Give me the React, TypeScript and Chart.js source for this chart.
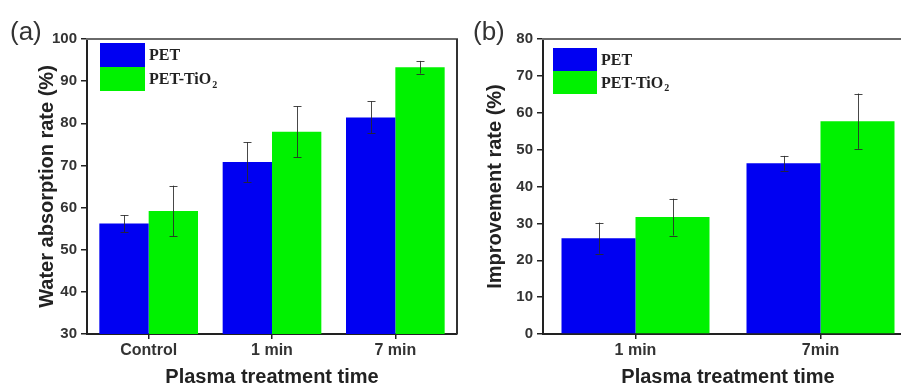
import React, { useEffect, useRef } from 'react';
import { Chart, registerables } from 'chart.js';

Chart.register(...registerables);

// ---------- data ----------
const categoriesA = ['Control', '1 min', '7 min'];
const petA = [56.2, 70.8, 81.4];
const petAErr = [2.0, 4.7, 3.8];
const tioA = [59.2, 78.0, 93.3];
const tioAErr = [6.0, 6.0, 1.5];
const yRangeA = [30, 100];

const categoriesB = ['1 min', '7min'];
const petB = [26.0, 46.3];
const petBErr = [4.2, 2.0];
const tioB = [31.7, 57.7];
const tioBErr = [5.0, 7.5];
const yRangeB = [0, 80];

const seriesNames = ['PET', 'PET-TiO'];
const BLUE = '#0000f2';
const GREEN = '#00f200';
const SANS = '"Liberation Sans", Arial, sans-serif';
const SERIF = '"Liberation Serif", "Times New Roman", serif';

type Deco = {
  panel: string;
  panelX: number;
  legendDx: number;
  legendDy: number;
  boxW: number;
  boxH: number;
  drawRight: boolean;
};

function makeDecoPlugin(deco: Deco, errs: number[][]) {
  return {
    id: 'deco',
    afterDatasetsDraw(chart: any) {
      const ctx = chart.ctx;
      const yScale = chart.scales.y;
      ctx.save();
      ctx.strokeStyle = 'rgba(40,40,40,0.85)';
      ctx.lineWidth = 1;
      chart.data.datasets.forEach((ds: any, di: number) => {
        const meta = chart.getDatasetMeta(di);
        meta.data.forEach((bar: any, j: number) => {
          const v = ds.data[j];
          const e = errs[di][j];
          const x = Math.round(bar.x) + 0.5;
          const yt = yScale.getPixelForValue(v + e);
          const yb = yScale.getPixelForValue(v - e);
          ctx.beginPath();
          ctx.moveTo(x, yt);
          ctx.lineTo(x, yb);
          ctx.moveTo(x - 4, Math.round(yt) + 0.5);
          ctx.lineTo(x + 4, Math.round(yt) + 0.5);
          ctx.moveTo(x - 4, Math.round(yb) + 0.5);
          ctx.lineTo(x + 4, Math.round(yb) + 0.5);
          ctx.stroke();
        });
      });
      ctx.restore();
    },
    afterDraw(chart: any) {
      const ctx = chart.ctx;
      const a = chart.chartArea;
      ctx.save();
      // frame
      ctx.lineWidth = 2;
      ctx.strokeStyle = '#6a6a6a';
      ctx.beginPath();
      ctx.moveTo(a.left - 1, a.top);
      ctx.lineTo(a.right + 1, a.top);
      ctx.stroke();
      if (deco.drawRight) {
        ctx.strokeStyle = '#333';
        ctx.beginPath();
        ctx.moveTo(a.right, a.top);
        ctx.lineTo(a.right, a.bottom);
        ctx.stroke();
      }
      // legend
      const lx = a.left + deco.legendDx;
      const ly = a.top + deco.legendDy;
      ctx.fillStyle = BLUE;
      ctx.fillRect(lx, ly, deco.boxW, deco.boxH);
      ctx.fillStyle = GREEN;
      ctx.fillRect(lx, ly + deco.boxH, deco.boxW, deco.boxH);
      ctx.fillStyle = '#222';
      ctx.font = `bold 16px ${SERIF}`;
      ctx.textBaseline = 'middle';
      ctx.textAlign = 'left';
      const tx = lx + deco.boxW + 4;
      ctx.fillText(seriesNames[0], tx, ly + deco.boxH / 2 + 1);
      const y2 = ly + deco.boxH * 1.5 + 1;
      ctx.fillText(seriesNames[1], tx, y2);
      const w = ctx.measureText(seriesNames[1]).width;
      ctx.font = `bold 10px ${SERIF}`;
      ctx.fillText('2', tx + w + 1, y2 + 5);
      // panel label
      ctx.font = `26px ${SANS}`;
      ctx.fillStyle = '#333';
      ctx.textBaseline = 'alphabetic';
      ctx.fillText(deco.panel, deco.panelX, 40);
      ctx.restore();
    },
  };
}

function buildConfig(
  cats: string[],
  pet: number[],
  tio: number[],
  range: number[],
  yTitle: string,
  yAxisWidth: number,
  yTitlePad: number,
  padRight: number
) {
  return {
    type: 'bar',
    data: {
      labels: cats,
      datasets: [
        { label: 'PET', data: pet, backgroundColor: BLUE, categoryPercentage: 0.8, barPercentage: 1.0 },
        { label: 'PET-TiO2', data: tio, backgroundColor: GREEN, categoryPercentage: 0.8, barPercentage: 1.0 },
      ],
    },
    options: {
      responsive: false,
      animation: false,
      layout: { padding: { left: 0, right: padRight, top: 39, bottom: 0 } },
      plugins: { legend: { display: false }, tooltip: { enabled: false } },
      scales: {
        x: {
          afterFit: (s: any) => {
            s.height = 66;
          },
          grid: { display: true, drawOnChartArea: false, offset: false, tickLength: 5, color: '#222', lineWidth: 1.5 },
          border: { display: true, color: '#222', width: 2 },
          ticks: { color: '#333', padding: 2, font: { family: SANS, size: 16, weight: 'bold' } },
          title: {
            display: true,
            text: 'Plasma treatment time',
            color: '#222',
            padding: { top: 0, bottom: 11 },
            font: { family: SANS, size: 20, weight: 'bold' },
          },
        },
        y: {
          min: range[0],
          max: range[1],
          afterFit: (s: any) => {
            s.width = yAxisWidth;
          },
          grid: { display: true, drawOnChartArea: false, tickLength: 6, color: '#222', lineWidth: 1.5 },
          border: { display: true, color: '#222', width: 2 },
          ticks: { stepSize: 10, color: '#333', padding: 4, font: { family: SANS, size: 15, weight: 'bold' } },
          title: {
            display: true,
            text: yTitle,
            color: '#222',
            padding: { top: yTitlePad, bottom: 0 },
            font: { family: SANS, size: 20, weight: 'bold' },
          },
        },
      },
    },
  };
}

export default function App() {
  const refA = useRef<HTMLCanvasElement>(null);
  const refB = useRef<HTMLCanvasElement>(null);

  useEffect(() => {
    const cfgA: any = buildConfig(categoriesA, petA, tioA, yRangeA, 'Water absorption rate (%)', 87, 35, 13);
    cfgA.plugins = [
      makeDecoPlugin(
        { panel: '(a)', panelX: 10, legendDx: 13, legendDy: 4, boxW: 45, boxH: 24, drawRight: true },
        [petAErr, tioAErr]
      ),
    ];
    const cfgB: any = buildConfig(categoriesB, petB, tioB, yRangeB, 'Improvement rate (%)', 93, 33, 17);
    cfgB.plugins = [
      makeDecoPlugin(
        { panel: '(b)', panelX: 23, legendDx: 10, legendDy: 9, boxW: 44, boxH: 23, drawRight: true },
        [petBErr, tioBErr]
      ),
    ];
    const a = new Chart(refA.current as HTMLCanvasElement, cfgA);
    const b = new Chart(refB.current as HTMLCanvasElement, cfgB);
    return () => {
      a.destroy();
      b.destroy();
    };
  }, []);

  return (
    <div
      style={{
        position: 'fixed',
        left: 0,
        top: 0,
        width: 901,
        height: 385,
        overflow: 'hidden',
        background: '#fff',
      }}
    >
      <canvas ref={refA} width={470} height={400} style={{ position: 'absolute', left: 0, top: 0 }} />
      <canvas ref={refB} width={480} height={400} style={{ position: 'absolute', left: 450, top: 0 }} />
    </div>
  );
}
